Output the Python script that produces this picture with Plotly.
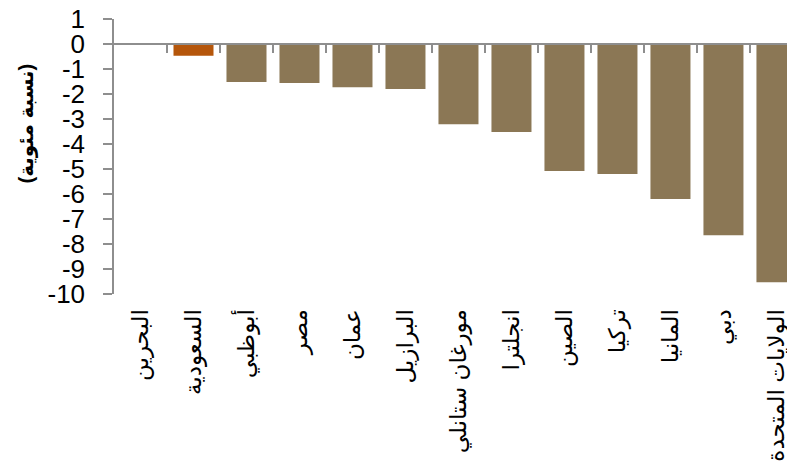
import plotly.graph_objects as go

categories = ["البحرين", "السعودية", "أبوظبي", "مصر", "عمان", "البرازيل",
              "مورغان ستانلي", "انجلترا", "الصين", "تركيا", "المانيا", "دبي",
              "الولايات المتحدة"]
values = [0.0, -0.47, -1.52, -1.56, -1.73, -1.8, -3.21, -3.52, -5.08, -5.2, -6.2, -7.65, -9.53]
highlight = "السعودية"
y_ticks = list(range(-10, 2))

BROWN = "#8b7755"
ORANGE = "#b5560b"
AXIS = "#8e8e8e"
FONT = "Arial, Liberation Sans, DejaVu Sans, sans-serif"

colors = [ORANGE if c == highlight else BROWN for c in categories]
n = len(categories)

fig = go.Figure()
fig.add_trace(go.Bar(
    x=categories, y=values,
    marker=dict(color=colors, line=dict(width=0)),
    width=0.755, showlegend=False, hoverinfo="x+y",
))
# invisible helper trace so the zero-crossing category axis is drawn
fig.add_trace(go.Scatter(
    x=list(range(n)), y=values, xaxis="x2", mode="markers",
    marker=dict(opacity=0), showlegend=False, hoverinfo="skip",
))

xr = [-0.5, n - 0.65]
fig.update_layout(
    width=787, height=454,
    margin=dict(l=106, r=0, t=11, b=168, autoexpand=False),
    paper_bgcolor="white", plot_bgcolor="white",
    font=dict(family=FONT, color="black"),
    xaxis=dict(
        type="category", range=xr, showgrid=False, zeroline=False, showline=False,
        ticks="outside", ticklen=5, tickcolor="rgba(0,0,0,0)", automargin=False,
        tickangle=-90, tickfont=dict(size=23, family=FONT), ticklabeloverflow="allow",
    ),
    xaxis2=dict(
        overlaying="x", anchor="free", position=10 / 11, range=xr, automargin=False,
        showgrid=False, zeroline=False, showline=True, linecolor=AXIS, linewidth=1.5,
        ticks="outside", ticklen=8, tickwidth=1.5, tickcolor=AXIS,
        tickvals=[i + 0.5 for i in range(n - 1)], showticklabels=False,
    ),
    yaxis=dict(
        range=[-10, 1], tickvals=y_ticks, ticktext=[str(v) for v in y_ticks],
        showgrid=False, zeroline=False, showline=True, linecolor=AXIS, linewidth=1.5,
        ticks="outside", ticklen=9, tickwidth=1.5, tickcolor=AXIS, automargin=False,
        tickfont=dict(size=26, family=FONT), ticklabeloverflow="allow",
        ticklabelstandoff=13,
    ),
    annotations=[dict(
        text="<b>(نسبة مئوية)</b>", xref="paper", yref="paper",
        x=(26 - 114) / 681, y=(294 - 123.5) / 275, xanchor="center", yanchor="middle",
        textangle=-90, showarrow=False, font=dict(size=20, family=FONT, color="black"),
    )],
)

fig.write_html("out.html")
